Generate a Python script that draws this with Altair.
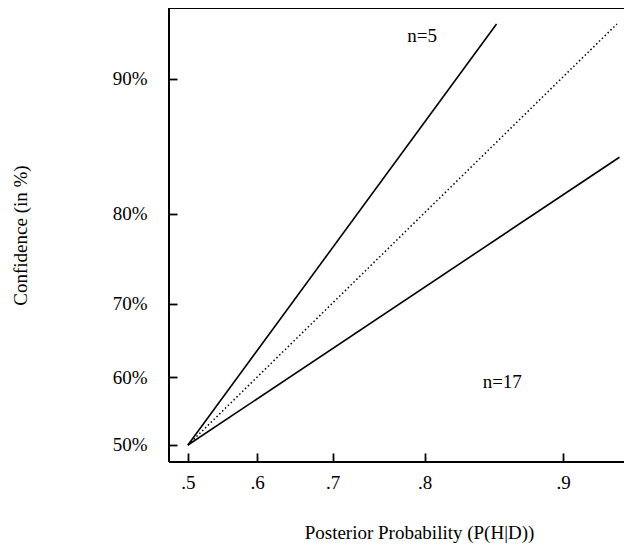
import altair as alt
import pandas as pd
import numpy as np

# ---- data (probabilities) ----
series = ["n=5", "n=5", "equal", "equal", "n=17", "n=17"]
posterior = [0.5, 0.859, 0.5, 0.925, 0.5, 0.926]
confidence = [0.5, 0.926, 0.5, 0.926, 0.5, 0.849]

label_text = ["n=5", "n=17"]
label_post = [0.7975, 0.863]
label_conf = [0.921, 0.593]

x_ticks = [0.5, 0.6, 0.7, 0.8, 0.9]
y_ticks = [0.5, 0.6, 0.7, 0.8, 0.9]
x_range = [0.4723, 0.9278]
y_range = [0.4745, 0.9323]


def logit(p):
    return float(np.log(p / (1 - p)))


FONT = "Liberation Serif"
W, H = 455, 454

lines_df = pd.DataFrame({"series": series, "posterior": posterior, "confidence": confidence})
labels_df = pd.DataFrame({"text": label_text, "posterior": label_post, "confidence": label_conf})

xdom = [logit(v) for v in x_range]
ydom = [logit(v) for v in y_range]

xscale = alt.Scale(domain=xdom, nice=False, zero=False)
yscale = alt.Scale(domain=ydom, nice=False, zero=False)

# axes on a log-odds (logit) scale; ticks point inward (axis shifted inside by the tick length)
x_axis = alt.Axis(
    values=[logit(v) for v in x_ticks],
    labelExpr="replace(format(1/(1+exp(-datum.value)), '.1f'), '0.', '.')",
    domain=False, grid=False, ticks=True, offset=-9, tickSize=9, tickWidth=1.8,
    tickColor="black",
    labelPadding=11, labelFont=FONT, labelFontSize=19, labelColor="black",
    title="Posterior Probability (P(H|D))", titleFont=FONT, titleFontSize=19,
    titleFontWeight="normal", titleColor="black", titlePadding=31, titleX=250,
)
y_axis = alt.Axis(
    values=[logit(v) for v in y_ticks],
    labelExpr="format(100/(1+exp(-datum.value)), '.0f') + '%'",
    domain=False, grid=False, ticks=True, offset=-8, tickSize=8, tickWidth=1.8,
    tickColor="black",
    labelPadding=22, labelFont=FONT, labelFontSize=19, labelColor="black",
    title="Confidence (in %)", titleFont=FONT, titleFontSize=19,
    titleFontWeight="normal", titleColor="black", titlePadding=82,
)

base = alt.Chart(lines_df).transform_calculate(
    lx="log(datum.posterior/(1-datum.posterior))",
    ly="log(datum.confidence/(1-datum.confidence))",
)

solid = base.transform_filter(alt.datum.series != "equal").mark_line(
    color="black", strokeWidth=1.6
).encode(
    x=alt.X("lx:Q", scale=xscale, axis=x_axis),
    y=alt.Y("ly:Q", scale=yscale, axis=y_axis),
    detail="series:N",
)

dotted = base.transform_filter(alt.datum.series == "equal").mark_line(
    color="black", strokeWidth=1.5, strokeDash=[1.5, 2.5]
).encode(
    x=alt.X("lx:Q", scale=xscale),
    y=alt.Y("ly:Q", scale=yscale),
)

texts = alt.Chart(labels_df).transform_calculate(
    lx="log(datum.posterior/(1-datum.posterior))",
    ly="log(datum.confidence/(1-datum.confidence))",
).mark_text(font=FONT, fontSize=19, color="black").encode(
    x=alt.X("lx:Q", scale=xscale),
    y=alt.Y("ly:Q", scale=yscale),
    text="text:N",
)

left_line = alt.Chart().mark_rule(color="black", strokeWidth=2).encode(x=alt.datum(xdom[0]))
bottom_line = alt.Chart().mark_rule(color="black", strokeWidth=2).encode(y=alt.datum(ydom[0]))
top_line = alt.Chart().mark_rule(color="black", strokeWidth=2).encode(y=alt.datum(ydom[1]))

chart = alt.layer(
    solid, dotted, texts, left_line, bottom_line, top_line
).properties(
    width=W, height=H,
    autosize=alt.AutoSizeParams(type="none"),
    padding={"left": 161, "top": 0, "right": 0, "bottom": 85},
).configure_view(stroke=None)

chart.save("out.html", embed_options={"renderer": "svg", "actions": False})
